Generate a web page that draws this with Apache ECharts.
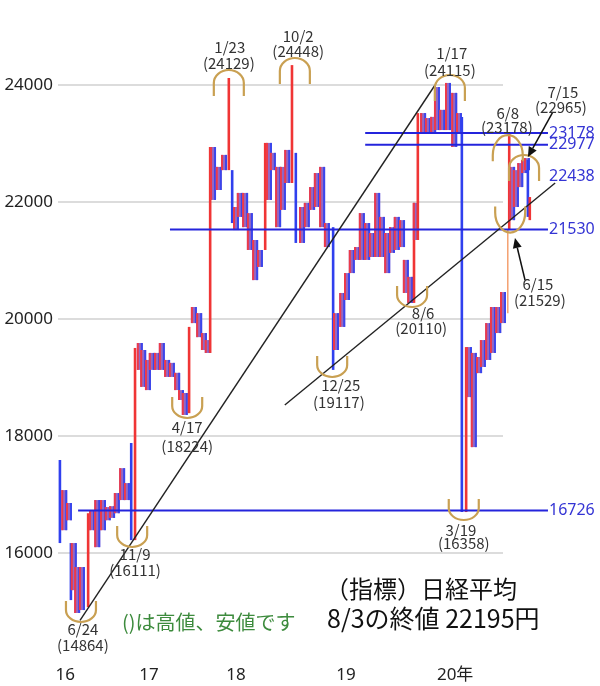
<!DOCTYPE html>
<html><head><meta charset="utf-8">
<script src="https://cdn.jsdelivr.net/npm/echarts@6/dist/echarts.min.js"></script>
<style>html,body{margin:0;padding:0;background:#fff}#c{width:600px;height:686px}</style>
</head><body><div id="c"></div>
<script>
// ---- data (bar position in chart slots, values in yen) ----
const yearSlots  = [1.5, 19.0, 37.2, 60.2, 83.0];
const yearLabels = ['16', '17', '18', '19', '20年'];
const yTicks     = [16000, 18000, 20000, 22000, 24000];

const barSlot = [
  0.4, 1.3, 2.3, 2.7, 3.3, 4.0, 5.0, 6.3, 7.1, 8.2, 9.4, 10.4, 11.3, 12.3, 13.4, 14.4, 15.3, 16.1,
  17.1, 17.8, 18.8, 19.6, 20.7, 21.7, 22.8, 23.8, 24.9, 25.7, 26.5, 27.4, 28.4, 29.5, 30.5, 31.3,
  31.8, 32.4, 33.6, 34.7, 35.7, 36.4, 37.2, 38.0, 39.1, 40.1, 41.2, 42.2, 43.3, 44.1,
  44.9, 46.0, 47.0, 47.9, 48.9, 49.7, 51.0, 52.0, 53.1, 54.1, 55.2, 56.2, 57.5,
  58.1, 59.4, 60.4, 61.4, 62.5, 63.5, 64.6, 65.6, 66.7, 67.7, 68.8, 69.8, 70.8, 71.9, 72.7, 73.6,
  74.4, 74.8, 75.2, 76.3, 77.3, 78.4, 79.2, 80.3, 81.5, 82.8, 83.8, 84.4,
  85.3, 85.9, 86.9, 88.0, 88.8, 89.9, 90.9, 92.0, 93.0, 94.0, 94.3, 94.9, 95.7, 96.6, 97.4, 98.0, 98.2, 98.6
];
const barHigh = [
  17590, 17075, 16855, 16170, 16170, 15760, 15760, 16680, 16735, 16905, 16905, 16785, 16800, 17025, 17450, 17195, 17880, 19505,
  19590, 19470, 19300, 19420, 19420, 19590, 19300, 19250, 19080, 18785, 18735, 19865, 20205, 20100, 19760, 19640,
  22940, 22940, 22600, 22805, 24120, 22545, 21915, 22155, 22155, 21810, 21350, 21180, 23010, 23010,
  22840, 22600, 22600, 22890, 24340, 22840, 21915, 21985, 22255, 22495, 22600, 21640, 21570,
  20100, 20445, 20785, 21180, 21230, 21810, 21640, 21470, 22155, 21745, 21470, 21570, 21745, 21690, 21010, 20720,
  21985, 21985, 23520, 23520, 23435, 23455, 23965, 23575, 24035, 23865, 23520, 23455,
  19520, 19520, 19420, 19350, 19640, 19930, 20205, 20205, 20460, 21520, 23180, 22600, 22545, 22665, 22720, 22750, 22720, 22085
];
const barLow = [
  16170, 16390, 16560, 15195, 15365, 14975, 15025, 15075, 16390, 16100, 16390, 16560, 16600, 16680, 16905, 16905, 16220, 16220,
  19130, 18840, 18785, 19130, 19130, 19130, 19010, 19010, 18785, 18615, 18360, 18390, 19930, 19690, 19470, 19420,
  19420, 22035, 22205, 22545, 22545, 21640, 21520, 21745, 21570, 21180, 20665, 20890, 21180, 22035,
  22545, 21570, 21865, 22325, 22325, 21300, 21300, 21570, 21865, 21915, 21570, 21230, 19130,
  19470, 19865, 20325, 20785, 21010, 21010, 21010, 21060, 21060, 21060, 20785, 21130, 21180, 21230, 20445, 20275,
  20275, 21350, 21350, 23180, 23180, 23195, 23230, 23230, 23230, 22940, 23180, 16700,
  16700, 18665, 17810, 19075, 19180, 19300, 19420, 19760, 19930, 20100, 21520, 21690, 21915, 22255, 22495, 22545, 21745, 21690
];
// B = box, U = rising line, D = falling line, O = thin orange line
const barKind = [
  'D','B','B','D','B','B','B','U','B','B','B','B','B','B','B','B','D','U',
  'B','B','B','B','B','B','B','B','B','B','B','U','B','B','B','B',
  'U','B','B','B','U','D','B','B','B','B','B','B','U','B',
  'B','B','B','B','U','D','B','B','B','B','B','B','D',
  'B','B','B','B','B','B','B','B','B','B','B','B','B','B','B','B',
  'U','B','U','B','B','B','B','B','B','B','B','D',
  'U','B','B','B','B','B','B','B','B','O','U','B','B','B','B','B','D','U'
];

const levelValue = [23178, 22977, 21530, 16726];
const levelStart = [64.2, 64.2, 23.4, 4.2];
const levelEnd   = [102.4, 102.4, 102.4, 102.4];
const sideLabelValue = [23178, 22977, 22438, 21530, 16726];
const sideLabelSlot  = [102.4, 102.4, 102.4, 102.4, 102.4];

const trendFrom = [[4.6, 14850], [47.4, 18530]];
const trendTo   = [[78.8, 24000], [103.9, 22325]];

const arcSlot  = [35.7, 49.5, 81.9, 94.0, 97.4, 4.8, 15.5, 27.0, 57.3, 74.0, 84.8, 94.5];
const arcValue = [24034, 24239, 23949, 22800, 22581, 15026, 16308, 18513, 19214, 20410, 16769, 21820];
const arcDir   = ['top','top','top','top','top','bottom','bottom','bottom','bottom','bottom','bottom','bottom'];

const noteText  = ['1/23','(24129)','10/2','(24448)','1/17','(24115)','6/8','(23178)','7/15','(22965)',
                   '6/15','(21529)','8/6','(20110)','12/25','(19117)','3/19','(16358)','6/24','(14864)',
                   '11/9','(16111)','4/17','(18224)'];
const noteSlot  = [35.9,35.7,50.2,50.2,82.3,81.9,94.0,93.8,105.5,105.1,100.3,100.7,76.3,75.9,59.1,58.7,84.2,84.8,5.2,5.2,16.1,16.1,27.0,27.0];
const noteValue = [24650,24376,24838,24581,24547,24256,23521,23282,23880,23624,20598,20325,20102,19846,18872,18581,16393,16171,14701,14427,15983,15709,18154,17829];

const arrowFrom = [[103.4, 23538], [97.6, 20667]];
const arrowTo   = [[98.2, 22769], [95.5, 21385]];

// ---- chart ----
const KIND = {B: 0, U: 1, D: 2, O: 3};
const chart = echarts.init(document.getElementById('c'));
const CJK = '"Noto Sans CJK JP"';

const option = {
  animation: false,
  backgroundColor: '#fff',
  grid: {left: 58, right: 97, top: 26.5, bottom: 27.7},
  xAxis: {
    type: 'value', min: 0, max: 93,
    axisLine: {show: false}, axisTick: {show: false}, splitLine: {show: false},
    axisLabel: {
      customValues: yearSlots, margin: 8, fontSize: 17, color: '#222',
      fontFamily: '"Noto Sans", ' + CJK,
      formatter: v => { const i = yearSlots.findIndex(s => Math.abs(s - v) < 1e-6); return i >= 0 ? yearLabels[i] : ''; }
    }
  },
  yAxis: {
    type: 'value', min: 14200, max: 25000,
    axisLine: {show: false}, axisTick: {show: false}, splitLine: {show: false},
    axisLabel: {customValues: yTicks, margin: 5, fontSize: 17, color: '#222', fontFamily: '"Noto Sans"',
                formatter: v => String(v)}
  },
  graphic: [
    {type: 'text', x: 325, y: 589, style: {text: '（指標）日経平均', font: '24px ' + CJK, fill: '#111', verticalAlign: 'middle'}},
    {type: 'text', x: 327, y: 618, style: {text: '8/3の終値 22195円', font: '25px ' + CJK, fill: '#111', verticalAlign: 'middle'}},
    {type: 'text', x: 122, y: 622, style: {text: '()は高値、安値です', font: '20px ' + CJK, fill: '#3d8b3d', verticalAlign: 'middle'}}
  ],
  series: [
    { // light grid lines
      type: 'custom', clip: false, z: 1,
      data: yTicks.map(v => [v]),
      renderItem(params, api) {
        const cs = params.coordSys;
        const y = api.coord([0, api.value(0)])[1];
        return {type: 'line', shape: {x1: cs.x, y1: y, x2: cs.x + cs.width, y2: y}, style: {stroke: '#dcdcdc', lineWidth: 2}};
      }
    },
    { // bars
      type: 'custom', clip: false, z: 2,
      data: barSlot.map((s, i) => [s, barLow[i], barHigh[i], KIND[barKind[i]]]),
      renderItem(params, api) {
        const s = api.value(0), k = api.value(3);
        const pLo = api.coord([s, api.value(1)]), pHi = api.coord([s, api.value(2)]);
        const x = pLo[0];
        if (k === 0) {
          const w = 6;
          return {type: 'group', children: [
            {type: 'rect', shape: {x: x - w / 2, y: pHi[1], width: w, height: pLo[1] - pHi[1]}, style: {fill: '#9468c4'}},
            {type: 'line', shape: {x1: x - w / 2 + 1, y1: pHi[1], x2: x - w / 2 + 1, y2: pLo[1]}, style: {stroke: '#ec3a4a', lineWidth: 2}},
            {type: 'line', shape: {x1: x + w / 2 - 1, y1: pHi[1], x2: x + w / 2 - 1, y2: pLo[1]}, style: {stroke: '#3a46ec', lineWidth: 2}}
          ]};
        }
        const col = k === 1 ? '#f03535' : k === 2 ? '#3040ee' : '#f4a070';
        return {type: 'line', shape: {x1: x, y1: pHi[1], x2: x, y2: pLo[1]}, style: {stroke: col, lineWidth: k === 3 ? 1.5 : 2.6}};
      }
    },
    { // level lines
      type: 'custom', clip: false, z: 3,
      data: levelValue.map((v, i) => [levelStart[i], levelEnd[i], v]),
      renderItem(params, api) {
        const p1 = api.coord([api.value(0), api.value(2)]), p2 = api.coord([api.value(1), api.value(2)]);
        return {type: 'line', shape: {x1: p1[0], y1: p1[1], x2: p2[0], y2: p2[1]}, style: {stroke: '#2424dc', lineWidth: 2}};
      }
    },
    { // trend lines
      type: 'custom', clip: false, z: 3,
      data: trendFrom.map((f, i) => [f[0], f[1], trendTo[i][0], trendTo[i][1]]),
      renderItem(params, api) {
        const p1 = api.coord([api.value(0), api.value(1)]), p2 = api.coord([api.value(2), api.value(3)]);
        return {type: 'line', shape: {x1: p1[0], y1: p1[1], x2: p2[0], y2: p2[1]}, style: {stroke: '#222', lineWidth: 1.4}};
      }
    },
    { // highlight arcs
      type: 'custom', clip: false, z: 4,
      data: arcSlot.map((s, i) => [s, arcValue[i]]),
      renderItem(params, api) {
        const p = api.coord([api.value(0), api.value(1)]);
        const i = params.dataIndex;
        const top = arcDir[i] === 'top';
        const tall = i === 3 || i === 11;   // the two June 2020 ovals
        const rx = 15, ry = tall ? 20 : (top ? 13 : 12), leg = tall ? 6 : (top ? 13 : 9);
        const cx = p[0], cy = p[1];
        const d = top
          ? `M${cx - rx} ${cy + leg} L${cx - rx} ${cy} A${rx} ${ry} 0 0 1 ${cx + rx} ${cy} L${cx + rx} ${cy + leg}`
          : `M${cx + rx} ${cy - leg} L${cx + rx} ${cy} A${rx} ${ry} 0 0 1 ${cx - rx} ${cy} L${cx - rx} ${cy - leg}`;
        return {type: 'path', shape: {pathData: d}, style: {fill: null, stroke: '#c9a052', lineWidth: 2.2}};
      }
    },
    { // arrows
      type: 'custom', clip: false, z: 5,
      data: arrowFrom.map((f, i) => [f[0], f[1], arrowTo[i][0], arrowTo[i][1]]),
      renderItem(params, api) {
        const p1 = api.coord([api.value(0), api.value(1)]), p2 = api.coord([api.value(2), api.value(3)]);
        const dx = p2[0] - p1[0], dy = p2[1] - p1[1], L = Math.hypot(dx, dy), ux = dx / L, uy = dy / L;
        const hl = 10, hw = 4.5, bx = p2[0] - ux * hl, by = p2[1] - uy * hl;
        return {type: 'group', children: [
          {type: 'line', shape: {x1: p1[0], y1: p1[1], x2: bx, y2: by}, style: {stroke: '#111', lineWidth: 1.5}},
          {type: 'polygon', shape: {points: [[p2[0], p2[1]], [bx - uy * hw, by + ux * hw], [bx + uy * hw, by - ux * hw]]}, style: {fill: '#111'}}
        ]};
      }
    },
    { // date / price notes
      type: 'custom', clip: false, z: 6,
      data: noteSlot.map((s, i) => [s, noteValue[i]]),
      renderItem(params, api) {
        const p = api.coord([api.value(0), api.value(1)]);
        return {type: 'text', x: p[0], y: p[1], style: {text: noteText[params.dataIndex], font: '15px ' + CJK, fill: '#333', align: 'center', verticalAlign: 'middle'}};
      }
    },
    { // level value labels on the right
      type: 'custom', clip: false, z: 6,
      data: sideLabelValue.map((v, i) => [sideLabelSlot[i], v]),
      renderItem(params, api) {
        const p = api.coord([api.value(0), api.value(1)]);
        return {type: 'text', x: p[0] + 1, y: p[1], style: {text: String(sideLabelValue[params.dataIndex]), font: '16px "Noto Sans"', fill: '#3434d4', align: 'left', verticalAlign: 'middle'}};
      }
    }
  ]
};
chart.setOption(option);
</script>
</body></html>
